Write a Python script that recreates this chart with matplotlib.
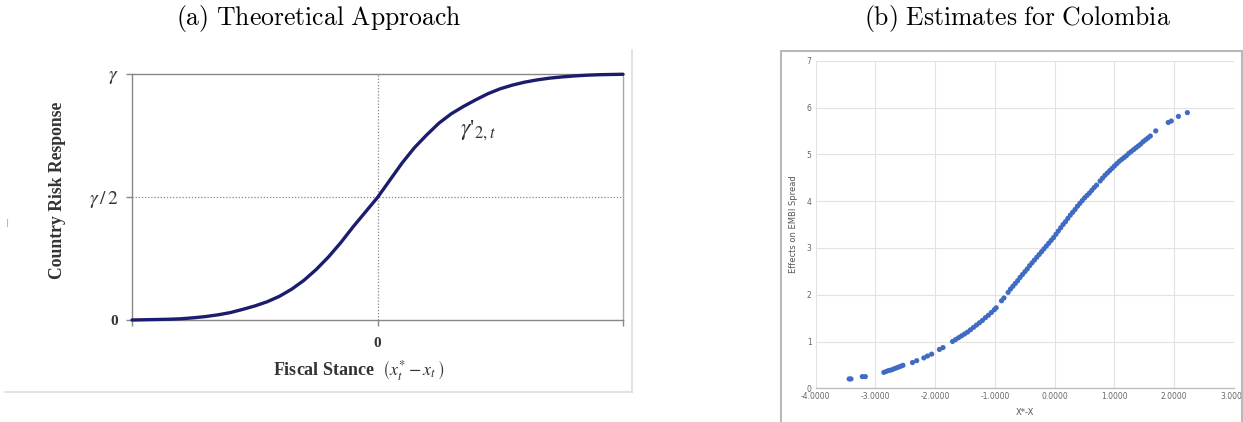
import matplotlib
matplotlib.use("Agg")
import matplotlib.pyplot as plt
from matplotlib.lines import Line2D
from matplotlib.patches import Rectangle

# ---------------- data ----------------
# Panel (a): theoretical logistic response (y as share of gamma)
theory_x = [-1.0, -0.95, -0.9, -0.85, -0.8, -0.75, -0.7, -0.65, -0.6, -0.55, -0.5,
            -0.45, -0.4, -0.35, -0.3, -0.25, -0.2, -0.15, -0.1, -0.05, 0.0,
            0.05, 0.1, 0.15, 0.2, 0.25, 0.3, 0.35, 0.4, 0.45, 0.5,
            0.55, 0.6, 0.65, 0.7, 0.75, 0.8, 0.85, 0.9, 0.95, 1.0]
theory_y = [0.000, 0.001, 0.002, 0.003, 0.005, 0.009, 0.014, 0.021, 0.030, 0.043, 0.057,
            0.074, 0.096, 0.125, 0.161, 0.205, 0.256, 0.314, 0.378, 0.438, 0.498,
            0.568, 0.638, 0.700, 0.752, 0.800, 0.838, 0.868, 0.895, 0.920, 0.940,
            0.955, 0.967, 0.976, 0.983, 0.988, 0.992, 0.995, 0.997, 0.998, 0.999]
a_yticks = [0, 0.5, 1]
a_yticklabels = ['0', r'$\gamma\,/\,2$', r'$\gamma$']
a_xticks = [-1, 0, 1]
a_xticklabels = ['', '0', '']

# Panel (b): estimates for Colombia
est_x = [-3.44, -3.41, -3.22, -3.17, -2.86, -2.82, -2.78, -2.74, -2.70, -2.66, -2.62,
         -2.58, -2.54, -2.38, -2.31, -2.19, -2.13, -2.06, -1.93, -1.87, -1.71, -1.66,
         -1.61, -1.56, -1.51, -1.46, -1.41, -1.36, -1.31, -1.26, -1.21, -1.16, -1.11,
         -1.06, -1.01, -0.98, -0.89, -0.85, -0.78, -0.74, -0.70, -0.66, -0.62, -0.58,
         -0.54, -0.50, -0.46, -0.42, -0.38, -0.34, -0.30, -0.26, -0.22, -0.18, -0.14,
         -0.10, -0.06, -0.02, 0.02, 0.06, 0.10, 0.14, 0.18, 0.22, 0.26, 0.30, 0.34,
         0.38, 0.42, 0.46, 0.50, 0.54, 0.58, 0.62, 0.66, 0.70, 0.76, 0.80, 0.84, 0.88,
         0.92, 0.96, 1.00, 1.04, 1.08, 1.12, 1.16, 1.20, 1.24, 1.28, 1.32, 1.36, 1.40,
         1.44, 1.48, 1.52, 1.56, 1.60, 1.69, 1.90, 1.95, 2.07, 2.22]
est_y = [0.20, 0.20, 0.25, 0.25, 0.34, 0.36, 0.38, 0.39, 0.41, 0.43, 0.45,
         0.47, 0.49, 0.55, 0.59, 0.65, 0.69, 0.73, 0.83, 0.87, 1.00, 1.04,
         1.08, 1.12, 1.16, 1.20, 1.25, 1.30, 1.35, 1.40, 1.45, 1.51, 1.56,
         1.62, 1.68, 1.72, 1.87, 1.93, 2.05, 2.12, 2.18, 2.24, 2.30, 2.37,
         2.43, 2.49, 2.55, 2.62, 2.68, 2.74, 2.80, 2.86, 2.92, 2.98, 3.04,
         3.10, 3.16, 3.22, 3.29, 3.36, 3.43, 3.50, 3.56, 3.63, 3.70, 3.76, 3.82,
         3.89, 3.95, 4.01, 4.07, 4.12, 4.17, 4.23, 4.29, 4.34, 4.43, 4.49, 4.55, 4.60,
         4.65, 4.70, 4.75, 4.80, 4.85, 4.89, 4.93, 4.97, 5.02, 5.06, 5.10, 5.14, 5.18,
         5.22, 5.27, 5.31, 5.35, 5.39, 5.50, 5.68, 5.71, 5.81, 5.89]
b_xticks = [-4, -3, -2, -1, 0, 1, 2, 3]
b_yticks = [0, 1, 2, 3, 4, 5, 6, 7]

# ---------------- figure ----------------
W, H = 1243, 422
fig = plt.figure(figsize=(W / 100, H / 100), dpi=100)
fig.patch.set_facecolor('white')

def fx(px):
    return px / W

def fy(py):
    return 1 - py / H

# titles (Computer Modern look)
fig.text(fx(319), fy(19), r'$\mathrm{(a)\ Theoretical\ Approach}$', ha='center',
         va='center', fontsize=18.5, math_fontfamily='cm')
fig.text(fx(1017), fy(19), r'$\mathrm{(b)\ Estimates\ for\ Colombia}$', ha='center',
         va='center', fontsize=18.5, math_fontfamily='cm')

# panel frames
fig.add_artist(Line2D([fx(5), fx(632)], [fy(392), fy(392)], color='#dddddd', lw=1.2))
fig.add_artist(Line2D([fx(632), fx(632)], [fy(50), fy(392)], color='#dddddd', lw=1.2))
fig.add_artist(Line2D([fx(7), fx(7)], [fy(219), fy(226)], color='#bbbbbb', lw=0.8))
fig.add_artist(Rectangle((fx(781), fy(430)), fx(1242) - fx(781), fy(51) - fy(430),
                         fill=False, edgecolor='#b8b8b8', lw=1.5, transform=fig.transFigure))

# ---------------- panel (a) ----------------
axa = fig.add_axes([fx(132), fy(320), fx(623) - fx(132), fy(74) - fy(320)])
axa.set_xlim(-1, 1)
axa.set_ylim(0, 1)
axa.plot(theory_x, theory_y, color='#1c1c6e', lw=2.4, solid_capstyle='round',
         solid_joinstyle='round', clip_on=False, zorder=5)
axa.axhline(0.5, color='#888888', lw=0.9, ls=(0, (1, 1.5)), zorder=1)
axa.axvline(0.0, color='#888888', lw=0.9, ls=(0, (1, 1.5)), zorder=1)
axa.spines['top'].set_visible(False)
axa.axhline(1.0, color='#888888', lw=1.0, zorder=1, clip_on=False)
for s in ['left', 'bottom', 'right']:
    axa.spines[s].set_color('#888888')
    axa.spines[s].set_linewidth(1.0)
axa.spines['right'].set_color('#aaaaaa')
axa.set_xticks(a_xticks)
axa.set_xticklabels(a_xticklabels, fontfamily='Liberation Serif', fontweight='bold',
                    fontsize=11)
axa.set_yticks(a_yticks)
axa.set_yticklabels(a_yticklabels, fontfamily='Liberation Serif', fontsize=14,
                    math_fontfamily='stix')
axa.get_yticklabels()[0].set_fontweight('bold')
axa.get_yticklabels()[0].set_fontsize(11)
axa.tick_params(axis='both', direction='out', length=4, color='#888888', width=1,
                labelcolor='#333333')
axa.tick_params(axis='x', pad=8)
axa.tick_params(axis='y', pad=6)
axa.text(0.335, 0.77, r"$\gamma$" + "'" + r"$_{2,t}$", fontsize=17,
         fontfamily='Liberation Serif', math_fontfamily='stix',
         color='#333333', va='center', ha='left')
fig.text(fx(57), fy(190), 'Country Risk Response', rotation=90, ha='center',
         va='center', fontfamily='Liberation Serif', fontweight='bold', fontsize=12.7,
         color='#333333')
fig.text(fx(359), fy(371), r'Fiscal Stance  $\left(x_t^{*}\,{-}\,x_t\,\right)$',
         ha='center', va='center', fontfamily='Liberation Serif', fontweight='bold',
         fontsize=13, math_fontfamily='stix', color='#333333')

# ---------------- panel (b) ----------------
axb = fig.add_axes([fx(815.7), fy(388.3), fx(1234) - fx(815.7), fy(60.7) - fy(388.3)])
axb.set_xlim(-4, 3)
axb.set_ylim(0, 7)
axb.scatter(est_x, est_y, s=14, color='#3f6cc2', edgecolors='none', zorder=3)
axb.set_xticks(b_xticks)
axb.set_xticklabels(['%.4f' % v for v in b_xticks])
axb.set_yticks(b_yticks)
axb.set_yticklabels([str(v) for v in b_yticks])
axb.grid(True, color='#e2e2e2', lw=0.8)
axb.set_axisbelow(True)
for s in ['top', 'right', 'left']:
    axb.spines[s].set_visible(False)
axb.spines['bottom'].set_color('#bbbbbb')
axb.spines['bottom'].set_linewidth(0.9)
axb.tick_params(axis='both', length=0, labelsize=5.5, labelcolor='#666666', pad=3)
axb.set_xlabel('X*-X', fontsize=6, color='#555555', labelpad=5)
axb.set_ylabel('Effects on EMBI Spread', fontsize=6, color='#555555', labelpad=6)

fig.savefig('out.png', dpi=100, facecolor='white')
